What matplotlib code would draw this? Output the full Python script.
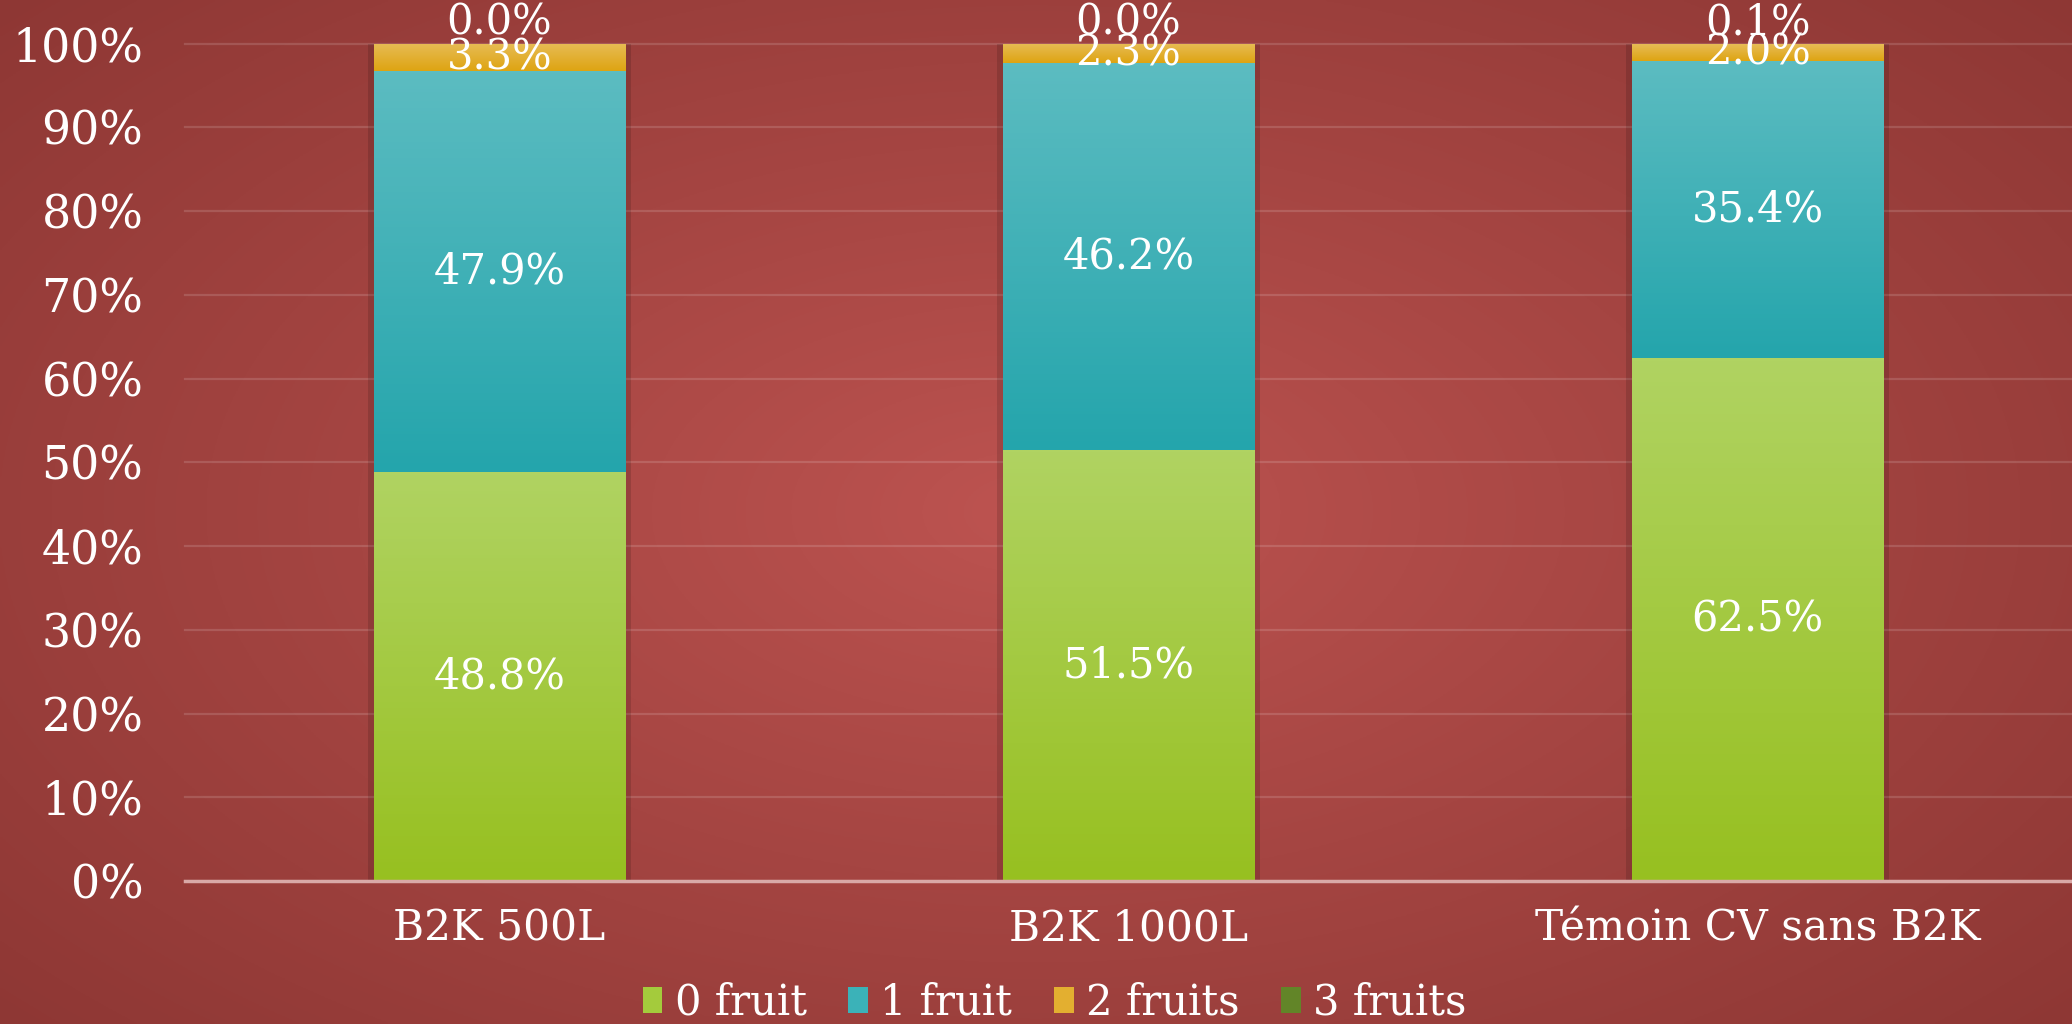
import numpy as np
import matplotlib
matplotlib.use('Agg')
import matplotlib.pyplot as plt
from matplotlib.colors import to_rgb
from matplotlib.patches import Patch

# ---------------- data ----------------
categories = ['B2K 500L', 'B2K 1000L', 'Témoin CV sans B2K']
series_names = ['0 fruit', '1 fruit', '2 fruits', '3 fruits']
fruit0 = [48.8, 51.5, 62.5]
fruit1 = [47.9, 46.2, 35.4]
fruit2 = [3.3, 2.3, 2.0]
fruit3 = [0.0, 0.0, 0.1]
ytick_values = [0, 10, 20, 30, 40, 50, 60, 70, 80, 90, 100]
ytick_labels = ['0%', '10%', '20%', '30%', '40%', '50%', '60%', '70%', '80%', '90%', '100%']

series_values = [fruit0, fruit1, fruit2, fruit3]
# (top colour, bottom colour) of each series' gradient
series_colors = [('#B0D362', '#97C020'),
                 ('#5CBCC1', '#24A5AC'),
                 ('#E7BC55', '#DEA412'),
                 ('#71903C', '#547B14')]
legend_colors = ['#A4CB3C', '#3BB2B8', '#E3AF30', '#628528']

plt.rcParams['font.family'] = ['DejaVu Serif', 'DejaVu Sans']

W, H = 2072, 1024
fig = plt.figure(figsize=(W / 100, H / 100), dpi=100)

# ---------------- radial background ----------------
bg = fig.add_axes([0, 0, 1, 1])
yy, xx = np.mgrid[0:1:400j, 0:1:800j]
r = np.sqrt(((xx - 0.5) / 0.5) ** 2 + ((yy - 0.5) / 0.55) ** 2) / np.sqrt(2)
r = np.clip(r, 0, 1) ** 0.9
inner = np.array(to_rgb('#BE5451'))
outer = np.array(to_rgb('#8C3633'))
img = inner[None, None, :] * (1 - r[..., None]) + outer[None, None, :] * r[..., None]
bg.imshow(img, extent=[0, 1, 0, 1], aspect='auto', origin='upper', zorder=0)
bg.set_xlim(0, 1)
bg.set_ylim(0, 1)
bg.axis('off')

# ---------------- main axes ----------------
left = 185 / W
bottom_ax = 1 - 881 / H
top_ax = 1 - 43.6 / H
ax = fig.add_axes([left, bottom_ax, 1 - left, top_ax - bottom_ax])
ax.patch.set_alpha(0)

x = np.arange(len(categories))
width = 0.4

# soft shadow behind each stacked bar
totals = np.sum(np.array(series_values), axis=0) / 100.0
ax.bar(x, totals, width + 0.018, color='black', alpha=0.13, zorder=2, linewidth=0)

bottoms = np.zeros(len(categories))
for si, (vals, (ctop, cbot)) in enumerate(zip(series_values, series_colors)):
    v = np.array(vals) / 100.0
    bars = ax.bar(x, v, width, bottom=bottoms, color=legend_colors[si],
                  linewidth=0, zorder=3)
    grad = np.linspace(0, 1, 128)[:, None, None]
    gimg = np.array(to_rgb(ctop))[None, None, :] * (1 - grad) + \
        np.array(to_rgb(cbot))[None, None, :] * grad
    for p in bars:
        x0, y0 = p.get_x(), p.get_y()
        w, h = p.get_width(), p.get_height()
        if h <= 0:
            continue
        im = ax.imshow(gimg, extent=[x0, x0 + w, y0, y0 + h], aspect='auto',
                       origin='upper', zorder=3.5)
        im.set_clip_path(p)
    for xi, b, val in zip(x, bottoms, vals):
        if si < 3:
            ax.text(xi, b + val / 200.0, f'{val:.1f}%', ha='center', va='center',
                    color='white', fontsize=30, zorder=6)
        else:
            ax.annotate(f'{val:.1f}%', xy=(xi, b + val / 100.0), xytext=(0, 15),
                        textcoords='offset points', ha='center', va='center',
                        color='white', fontsize=30, zorder=6,
                        annotation_clip=False)
    bottoms = bottoms + v

ax.set_xlim(-0.5, 2.5)
ax.set_ylim(0, 1.0)
ax.set_yticks(np.array(ytick_values) / 100.0)
ax.set_yticklabels(ytick_labels)
ax.set_xticks(x)
ax.set_xticklabels(categories)
ax.tick_params(axis='y', length=0, pad=30, labelsize=33, labelcolor='white')
ax.tick_params(axis='x', length=0, pad=19, labelsize=30.5, labelcolor='white')
for s in ax.spines.values():
    s.set_visible(False)
ax.yaxis.grid(True, color='white', alpha=0.14, linewidth=1.6)
ax.set_axisbelow(True)
for gl in ax.get_ygridlines():
    gl.set_clip_on(False)
ax.axhline(0, color='#D9A9A7', linewidth=2.5, zorder=4, clip_on=False)

# ---------------- legend ----------------
handles = [Patch(facecolor=c, edgecolor='none') for c in legend_colors]
fig.legend(handles, series_names, loc='center', bbox_to_anchor=(0.509, 0.021),
           ncol=4, frameon=False, fontsize=30, handlelength=0.47,
           handleheight=0.6, handletextpad=0.3, columnspacing=1.0,
           labelcolor='white', borderpad=0, borderaxespad=0)

fig.savefig('out.png', dpi=100)
